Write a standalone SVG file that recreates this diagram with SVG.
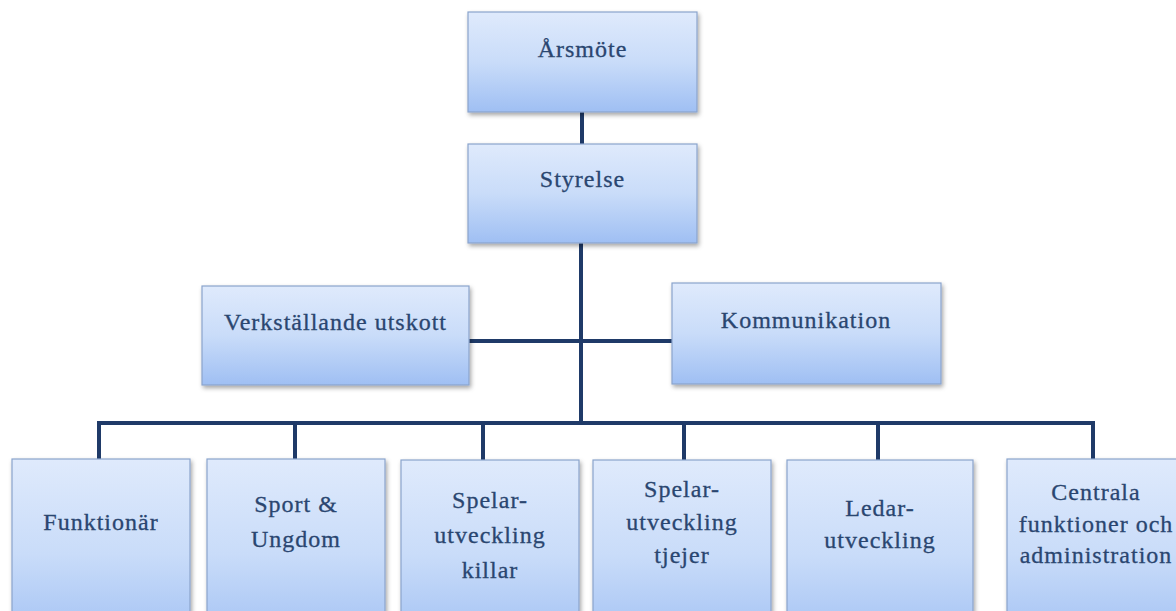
<svg xmlns="http://www.w3.org/2000/svg" width="1176" height="611" viewBox="0 0 1176 611">
<defs>
<linearGradient id="g" x1="0" y1="0" x2="0" y2="1">
<stop offset="0" stop-color="#dfeafc"/>
<stop offset="0.5" stop-color="#c9dcf9"/>
<stop offset="1" stop-color="#9fbff3"/>
</linearGradient>
<filter id="sh" x="-10%" y="-10%" width="130%" height="130%">
<feDropShadow dx="1.5" dy="2.5" stdDeviation="2" flood-color="#000" flood-opacity="0.35"/>
</filter>
</defs>
<style>
.box{fill:url(#g);stroke:#8aa4cc;stroke-width:1.2;filter:url(#sh)}
.t{font-family:'Liberation Serif','DejaVu Serif',serif;font-size:24px;letter-spacing:1px;fill:#2a4670;text-anchor:middle;stroke:#2a4670;stroke-width:0.3}
.c{fill:none;stroke:#1f3a68;stroke-width:4;stroke-linejoin:miter}
</style>
<rect width="1176" height="611" fill="#ffffff"/>
<g id="connectors">
<line class="c" x1="582" y1="112" x2="582" y2="144"/>
<line class="c" x1="581" y1="243" x2="581" y2="423"/>
<line class="c" x1="469" y1="341" x2="672" y2="341"/>
<path class="c" d="M99 460 V423 H1093 V460"/>
<line class="c" x1="295" y1="423" x2="295" y2="460"/>
<line class="c" x1="483" y1="423" x2="483" y2="460"/>
<line class="c" x1="684" y1="423" x2="684" y2="460"/>
<line class="c" x1="878" y1="423" x2="878" y2="460"/>
</g>
<g font-family="Liberation Serif, serif">
<g id="arsmote"><rect class="box" x="468" y="12" width="229" height="100"/><text class="t" x="582.5" y="57">Årsmöte</text></g>
<g id="styrelse"><rect class="box" x="468" y="144" width="229" height="99"/><text class="t" x="582.5" y="187">Styrelse</text></g>
<g id="verkstallande"><rect class="box" x="202" y="286" width="267" height="99"/><text class="t" x="335.5" y="330">Verkställande utskott</text></g>
<g id="kommunikation"><rect class="box" x="672" y="283" width="269" height="101"/><text class="t" x="806" y="328">Kommunikation</text></g>
<g id="funktionar"><rect class="box" x="12" y="459" width="178" height="190"/><text class="t" x="101" y="530">Funktionär</text></g>
<g id="sport"><rect class="box" x="207" y="459" width="178" height="190"/><text class="t" x="296" y="512">Sport &amp;</text><text class="t" x="296" y="547">Ungdom</text></g>
<g id="spelar-killar"><rect class="box" x="401" y="460" width="178" height="190"/><text class="t" x="490" y="508">Spelar-</text><text class="t" x="490" y="543">utveckling</text><text class="t" x="490" y="578">killar</text></g>
<g id="spelar-tjejer"><rect class="box" x="593" y="460" width="178" height="190"/><text class="t" x="682" y="497">Spelar-</text><text class="t" x="682" y="530">utveckling</text><text class="t" x="682" y="563">tjejer</text></g>
<g id="ledar"><rect class="box" x="787" y="460" width="186" height="190"/><text class="t" x="880" y="516">Ledar-</text><text class="t" x="880" y="548">utveckling</text></g>
<g id="centrala"><rect class="box" x="1007" y="459" width="180" height="190"/><text class="t" x="1096" y="500">Centrala</text><text class="t" x="1096" y="532">funktioner och</text><text class="t" x="1096" y="563">administration</text></g>
</g>
</svg>
